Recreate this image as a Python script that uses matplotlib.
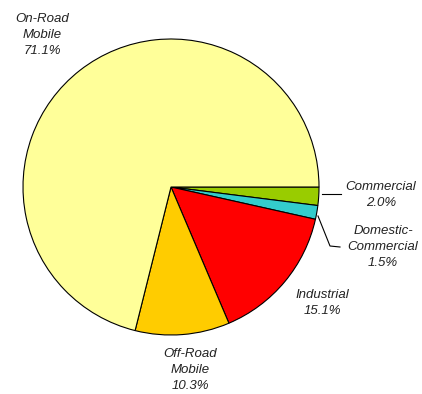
import matplotlib
matplotlib.use("Agg")
import matplotlib.pyplot as plt

categories = ["Commercial", "Domestic-\nCommercial", "Industrial", "Off-Road\nMobile", "On-Road\nMobile"]
shares = [2.0, 1.5, 15.1, 10.3, 71.1]
colors = ["#99CC00", "#33CCCC", "#FF0000", "#FFCC00", "#FFFF99"]

fig = plt.figure(figsize=(4.22, 3.94), dpi=100)
ax = fig.add_axes([0, 0, 1, 1])

cx, cy, r = 171, -187, 148
ax.pie(shares, colors=colors, startangle=0, counterclock=False,
       center=(cx, cy), radius=r, frame=True,
       wedgeprops=dict(edgecolor="black", linewidth=0.8))
ax.set_xlim(0, 422)
ax.set_ylim(-394, 0)
ax.set_aspect("equal")
ax.axis("off")

font = dict(family="Liberation Sans", style="italic", fontsize=9.5,
            color="#222222", ha="center", va="center", linespacing=1.45)

label_pos = [(381, -195), (383, -247), (322, -303), (190, -370), (42, -35)]
for name, val, (x, y) in zip(categories, shares, label_pos):
    ax.text(x, y, f"{name}\n{val:.1f}%", **font)

# leader lines for the two thin slices
ax.plot([322, 341], [-194, -194], color="black", lw=0.8)
ax.plot([318, 330, 340], [-216, -246, -247], color="black", lw=0.8)

fig.savefig("out.png", dpi=100)
